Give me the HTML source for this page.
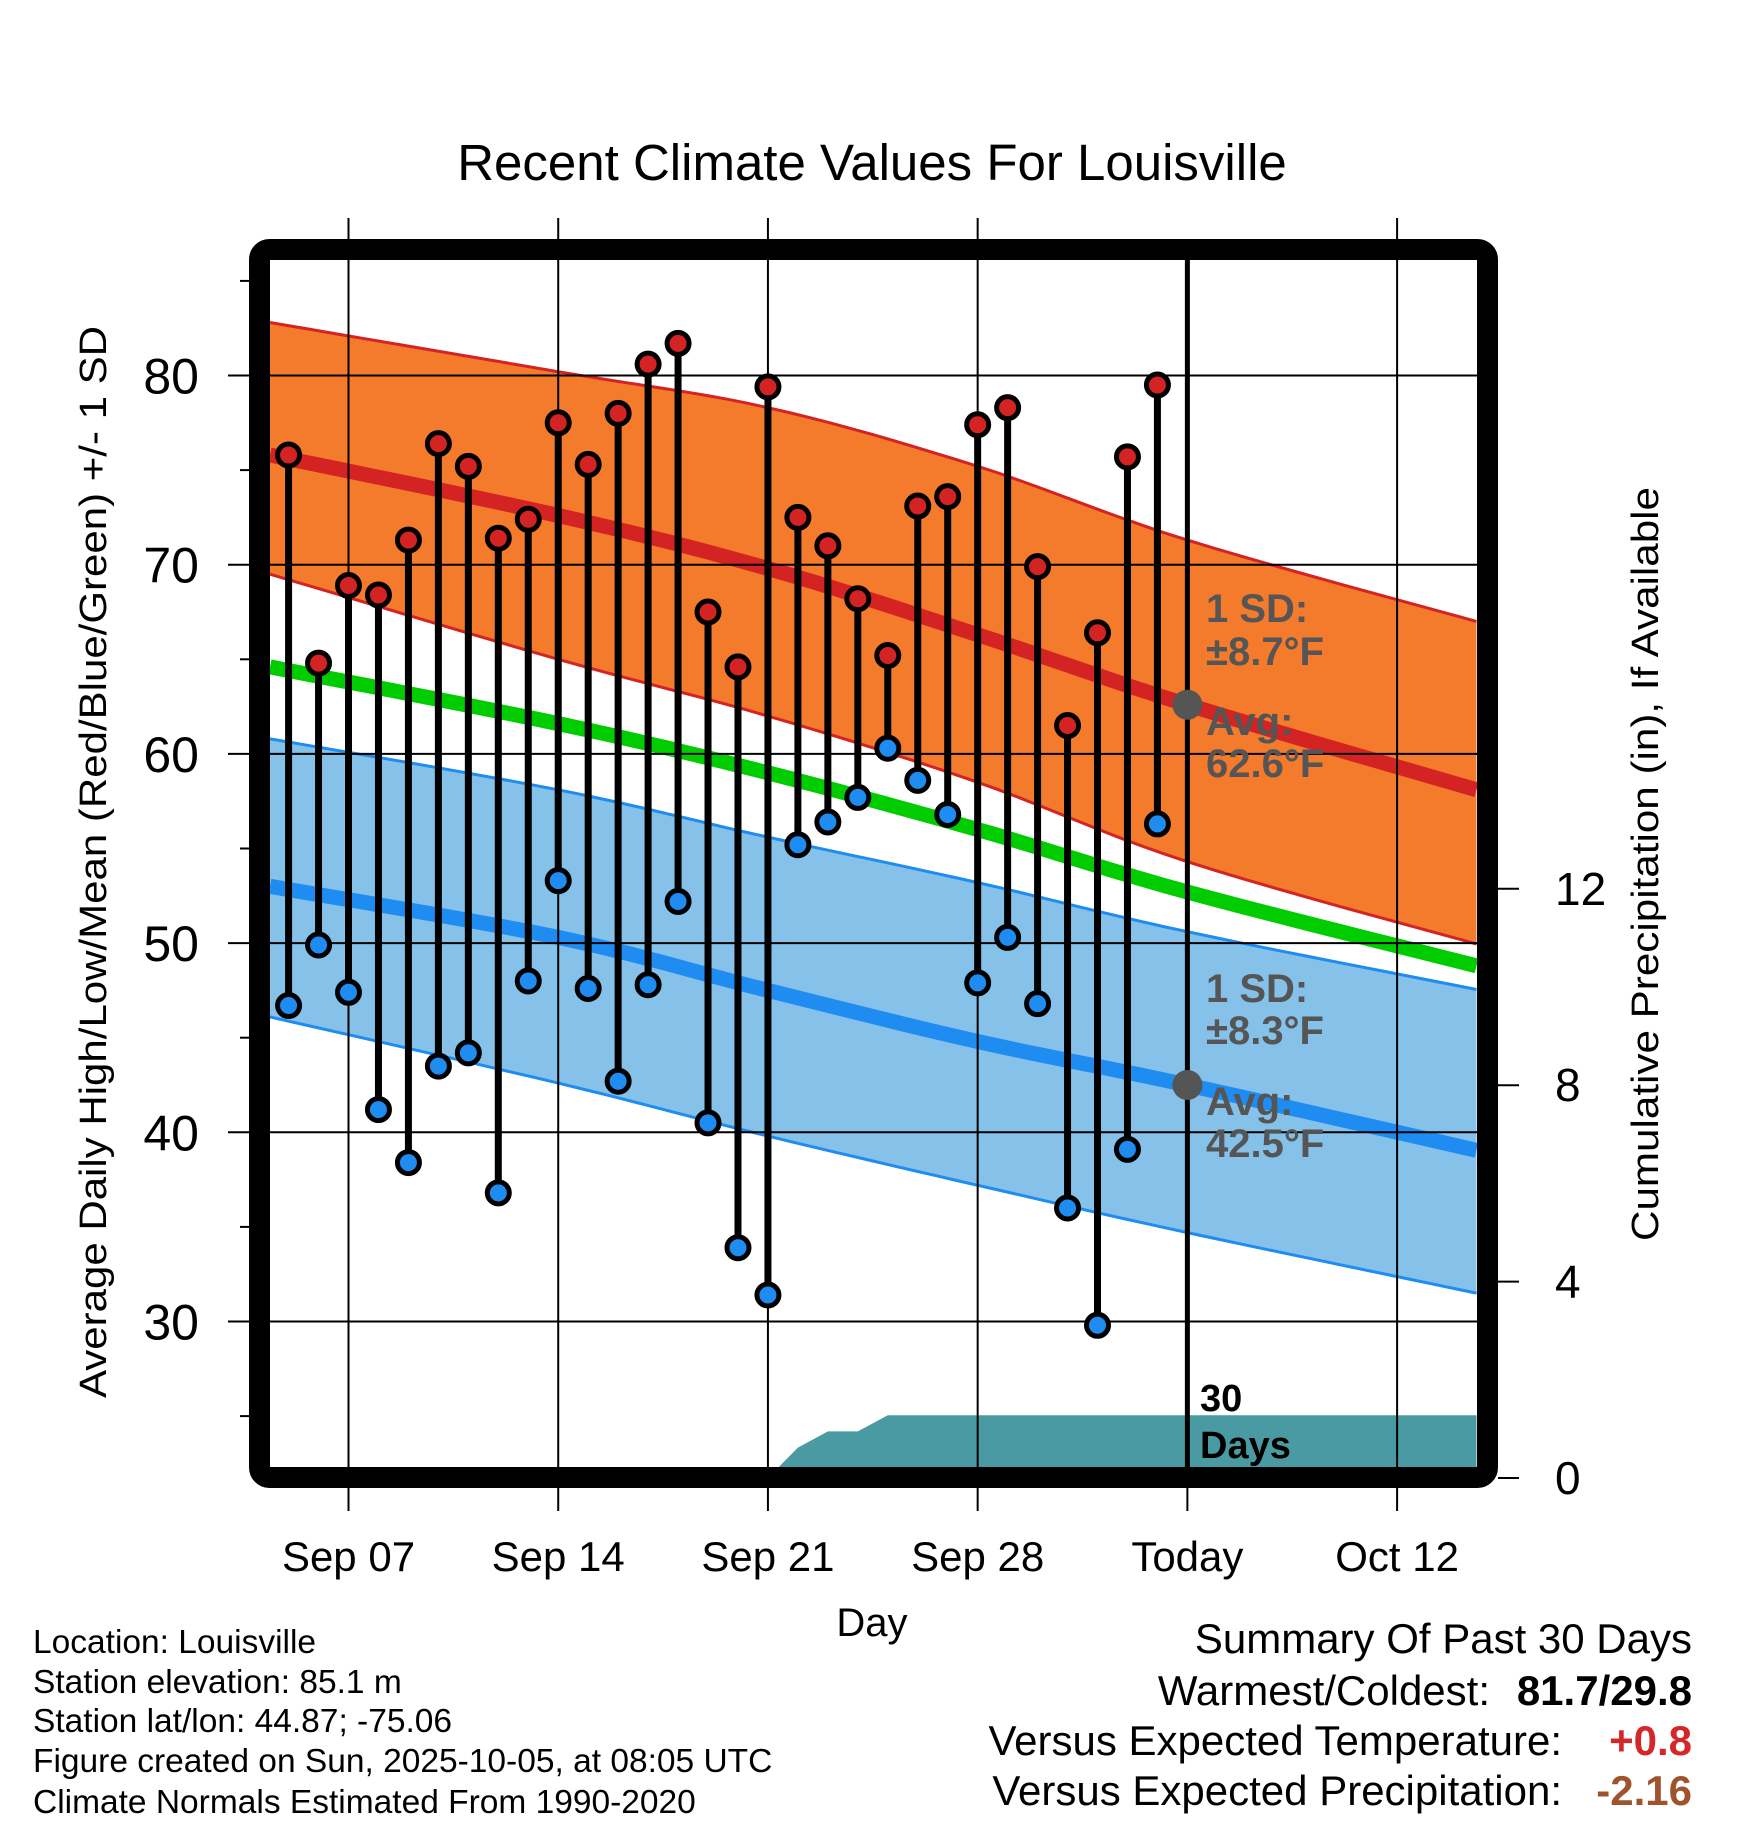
<!DOCTYPE html>
<html><head><meta charset="utf-8"><style>
html,body{margin:0;padding:0;background:#fff;}
svg{display:block;font-family:"Liberation Sans",Arial,sans-serif;}
</style></head><body>
<svg id="chart" width="1748" height="1828" viewBox="0 0 1748 1828" xmlns="http://www.w3.org/2000/svg">
<defs><clipPath id="pc"><rect x="270" y="260" width="1208" height="1207"/></clipPath></defs>
<g id="back" clip-path="url(#pc)"></g>
<g id="grid"></g>
<g id="marks" clip-path="url(#pc)"></g>
<rect x="259.5" y="249.5" width="1228" height="1228" rx="10" fill="none" stroke="#000" stroke-width="21"/>
<g id="axes"></g>
<text x="872" y="180" font-size="51" text-anchor="middle">Recent Climate Values For Louisville</text>
<text x="872" y="1636" font-size="40" text-anchor="middle">Day</text>
<text transform="translate(106,862) rotate(-90)" font-size="38" text-anchor="middle" textLength="1072" lengthAdjust="spacingAndGlyphs">Average Daily High/Low/Mean (Red/Blue/Green) +/- 1 SD</text>
<text transform="translate(1658,864) rotate(-90)" font-size="38" text-anchor="middle" textLength="754" lengthAdjust="spacingAndGlyphs">Cumulative Precipitation (in), If Available</text>
<g font-size="40" fill="#555" font-weight="bold">
<text x="1206" y="622">1 SD:</text><text x="1206" y="665">±8.7°F</text>
<text x="1206" y="735">Avg:</text><text x="1206" y="777">62.6°F</text></g>
<g font-size="40" fill="#555" font-weight="bold">
<text x="1206" y="1002">1 SD:</text><text x="1206" y="1044">±8.3°F</text>
<text x="1206" y="1115">Avg:</text><text x="1206" y="1157">42.5°F</text></g>
<g font-size="38" font-weight="bold"><text x="1200" y="1411">30</text><text x="1200" y="1458">Days</text></g>
<g font-size="33.5">
<text x="33" y="1653">Location: Louisville</text>
<text x="33" y="1693">Station elevation: 85.1 m</text>
<text x="33" y="1732">Station lat/lon: 44.87; -75.06</text>
<text x="33" y="1772">Figure created on Sun, 2025-10-05, at 08:05 UTC</text>
<text x="33" y="1813">Climate Normals Estimated From 1990-2020</text></g>
<g font-size="42" text-anchor="end">
<text x="1692" y="1653">Summary Of Past 30 Days</text>
<text x="1490" y="1705">Warmest/Coldest:</text><text x="1692" y="1705" font-weight="bold">81.7/29.8</text>
<text x="1562" y="1755">Versus Expected Temperature:</text><text x="1692" y="1755" font-weight="bold" fill="#d62728">+0.8</text>
<text x="1562" y="1805">Versus Expected Precipitation:</text><text x="1692" y="1805" font-weight="bold" fill="#a0522d">-2.16</text></g>
</svg>
<script>
const normDays=[4.38,14,21,28,35,44.65];
const upperHigh=[82.8,80.2,78.3,75.2,71.3,67.0];
const avgHigh=[75.8,72.6,69.8,66.3,62.6,58.1];
const lowerHigh=[69.5,65.0,62.0,58.5,54.3,49.95];
const avgMean=[64.6,61.6,59.0,56.0,52.7,48.8];
const upperLow=[60.8,58.1,55.6,53.2,50.6,47.55];
const avgLow=[53.0,50.3,47.5,44.8,42.5,39.05];
const lowerLow=[46.1,42.6,39.8,37.2,34.7,31.5];
const obsDays=[5,6,7,8,9,10,11,12,13,14,15,16,17,18,19,20,21,22,23,24,25,26,27,28,29,30,31,32,33,34];
const highs=[75.8,64.8,68.9,68.4,71.3,76.4,75.2,71.4,72.4,77.5,75.3,78.0,80.6,81.7,67.5,64.6,79.4,72.5,71.0,68.2,65.2,73.1,73.6,77.4,78.3,69.9,61.5,66.4,75.7,79.5];
const lows=[46.7,49.9,47.4,41.2,38.4,43.5,44.2,36.8,48.0,53.3,47.6,42.7,47.8,52.2,40.5,33.9,31.4,55.2,56.4,57.7,60.3,58.6,56.8,47.9,50.3,46.8,36.0,29.8,39.1,56.3];
const precipDays=[21,22,23,24,25,26,34,44.65];
const precipVals=[0,0.62,0.95,0.95,1.28,1.28,1.28,1.28];
const tempTicks=[30,40,50,60,70,80];
const precipTicks=[0,4,8,12];
const dayTicks=[7,14,21,28,35,42];
const dayTickLabels=["Sep 07","Sep 14","Sep 21","Sep 28","Today","Oct 12"];
const todayDay=35;

const NS="http://www.w3.org/2000/svg";
const X=d=>348.5+(d-7)*29.96;
const Y=t=>375.5+(80-t)*18.92;
const P=p=>1478-p*49.1;
function mk(tag,attrs,parent){const e=document.createElementNS(NS,tag);for(const k in attrs)e.setAttribute(k,attrs[k]);parent.appendChild(e);return e;}
const back=document.getElementById('back'),grid=document.getElementById('grid'),marks=document.getElementById('marks'),axes=document.getElementById('axes');
// smooth curve sampling (Catmull-Rom) through normal points
function sample(a){
  const P0=normDays.map((d,i)=>[X(d),Y(a[i])]);const out=[];
  for(let i=0;i<P0.length-1;i++){
    const p0=P0[Math.max(0,i-1)],p1=P0[i],p2=P0[i+1],p3=P0[Math.min(P0.length-1,i+2)];
    for(let s=0;s<10;s++){const t=s/10,t2=t*t,t3=t2*t;
      const f=(a0,a1,a2,a3)=>0.5*((2*a1)+(-a0+a2)*t+(2*a0-5*a1+4*a2-a3)*t2+(-a0+3*a1-3*a2+a3)*t3);
      out.push([f(p0[0],p1[0],p2[0],p3[0]),f(p0[1],p1[1],p2[1],p3[1])]);}
  }
  out.push(P0[P0.length-1]);return out;
}
const str=arr=>arr.map(p=>p[0].toFixed(1)+','+p[1].toFixed(1));
function band(up,lo,fill,stroke,name){
  const u=sample(up),l=sample(lo);
  const p=mk('polygon',{points:str(u).concat(str(l).reverse()).join(' '),fill:fill},back);
  
  
  [u,l].forEach(a=>{const e=mk('polyline',{points:str(a).join(' '),fill:'none',stroke:stroke,'stroke-width':3},back);
  
  });
}
band(upperHigh,lowerHigh,'#f47a2c','#d42323','high-sd-band');
band(upperLow,lowerLow,'#85c1e8','#1e8cf0','low-sd-band');
[[avgHigh,'#d42323','avg-high-line'],[avgMean,'#00cc00','avg-mean-line'],[avgLow,'#1e8cf0','avg-low-line']].forEach(([a,c,n])=>{
  const l=mk('polyline',{points:str(sample(a)).join(' '),fill:'none',stroke:c,'stroke-width':15},back);
  
  });
// precip
let pp=precipDays.map((d,i)=>X(d).toFixed(1)+','+P(precipVals[i]).toFixed(1));
pp.push(X(precipDays[precipDays.length-1]).toFixed(1)+','+P(0),X(precipDays[0]).toFixed(1)+','+P(0));
const pa=mk('polygon',{points:pp.join(' '),fill:'#4a9aa3'},back);


// grid
tempTicks.forEach(t=>{
  const l=mk('line',{x1:228,x2:1478,y1:Y(t),y2:Y(t),stroke:'#000','stroke-width':2},grid);
  
  
  const tx=mk('text',{x:199,y:Y(t)+18,'font-size':50,'text-anchor':'end'},axes);tx.textContent=t;
  
  
});
for(let t=25;t<=85;t+=10){const l=mk('line',{x1:240,x2:252,y1:Y(t),y2:Y(t),stroke:'#000','stroke-width':2},axes);
  
  }
dayTicks.forEach((d,i)=>{
  const today=d===todayDay;
  const l=mk('line',{x1:X(d),x2:X(d),y1:today?250:218,y2:today?1467:1511,stroke:'#000','stroke-width':today?5:2},grid);
  
  
  if(today){const t2=mk('line',{x1:X(d),x2:X(d),y1:1467,y2:1511,stroke:'#000','stroke-width':2},grid);
    
    }
  const tx=mk('text',{x:X(d),y:1571,'font-size':42,'text-anchor':'middle'},axes);tx.textContent=dayTickLabels[i];
  
  
});
precipTicks.forEach(p=>{
  const l=mk('line',{x1:1498,x2:1519,y1:P(p),y2:P(p),stroke:'#000','stroke-width':2},axes);
  
  
  const tx=mk('text',{x:1555,y:P(p)+16,'font-size':46},axes);tx.textContent=p;
  
  
});
// today dots
[[avgHigh[4]],[avgLow[4]]].forEach(([v])=>{const c=mk('circle',{cx:X(todayDay),cy:Y(v),r:15,fill:'#555'},marks);
  
  });
// observations
obsDays.forEach((d,i)=>{
  const l=mk('line',{x1:X(d),x2:X(d),y1:Y(highs[i]),y2:Y(lows[i]),stroke:'#000','stroke-width':7},marks);
  
  
  const h=mk('circle',{cx:X(d),cy:Y(highs[i]),r:11,fill:'#d42323',stroke:'#000','stroke-width':5},marks);
  
  
  const lo=mk('circle',{cx:X(d),cy:Y(lows[i]),r:11,fill:'#1e8cf0',stroke:'#000','stroke-width':5},marks);
  
  
});
</script>
</body></html>
